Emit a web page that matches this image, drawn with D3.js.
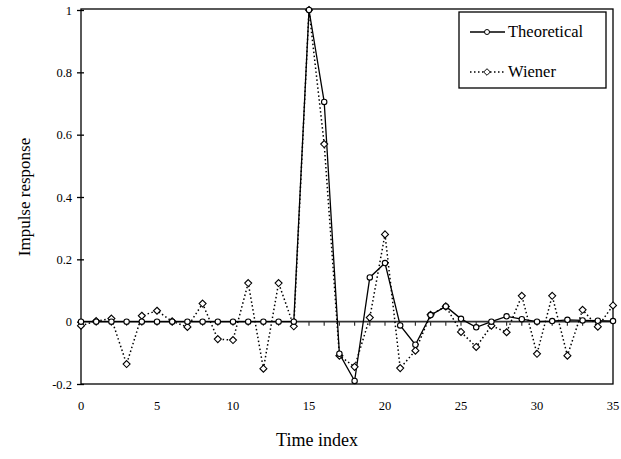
<!DOCTYPE html>
<html><head><meta charset="utf-8">
<script src="https://cdn.jsdelivr.net/npm/d3@7"></script>
<style>body{margin:0;background:#fff}svg{display:block}text{font-family:"Liberation Serif","Times New Roman",serif !important;fill:#000}</style>
</head><body><svg id="c" width="621" height="459"></svg>
<script>
const timeIndex = d3.range(0, 36);
const theoretical = [0,0,0,0,0,0,0,0,0,0,0,0,0,0,0,1.0,0.705,-0.103,-0.19,0.142,0.188,-0.012,-0.074,0.021,0.049,0.009,-0.018,0.0,0.017,0.008,0.0,0.002,0.006,0.004,0.003,0.002];
const wiener = [-0.013,0.002,0.01,-0.136,0.019,0.035,0.001,-0.017,0.058,-0.056,-0.059,0.124,-0.151,0.124,-0.015,1.0,0.57,-0.109,-0.145,0.013,0.28,-0.149,-0.093,0.022,0.049,-0.033,-0.081,-0.013,-0.034,0.083,-0.103,0.083,-0.109,0.038,-0.016,0.052];
const yTicks = [-0.2,0,0.2,0.4,0.6,0.8,1];
const xTickLabels = [0,5,10,15,20,25,30,35];
const seriesNames = ["Theoretical","Wiener"];

const FONT = "Liberation Serif";
const svg = d3.select("#c");
const L=81,R=613,T=10,B=384;
const x = d3.scaleLinear().domain([0,35]).range([L,R]);
const y = d3.scaleLinear().domain([-0.2,1]).range([B,T]);

// frame
svg.append("rect").attr("x",L).attr("y",T-1).attr("width",R-L).attr("height",B-T+1)
  .attr("fill","none").attr("stroke","#000").attr("stroke-width",1.3);

// y axis
const ya = svg.append("g").attr("transform",`translate(${L},0)`)
  .call(d3.axisLeft(y).tickValues(yTicks).tickFormat(d=>d===0?"0":String(+d.toFixed(1))).tickSize(4).tickPadding(5));
ya.attr("font-family",FONT);
ya.select(".domain").remove();
ya.selectAll(".tick line").attr("x2",3).attr("x1",-4).attr("stroke","#000").attr("stroke-width",1.3);
ya.selectAll("text").attr("font-family",FONT).style("font-size","12.5px");

// zero axis with minor ticks
svg.append("line").attr("x1",L).attr("x2",R).attr("y1",y(0)).attr("y2",y(0)).attr("stroke","#333").attr("stroke-width",1.6);
svg.append("g").selectAll("line").data(timeIndex.slice(1,35)).join("line")
  .attr("x1",d=>x(d)).attr("x2",d=>x(d)).attr("y1",y(0)).attr("y2",y(0)+4).attr("stroke","#333").attr("stroke-width",1.2);

// x tick labels at bottom
svg.append("g").selectAll("text").data(xTickLabels).join("text")
  .attr("x",d=>x(d)).attr("y",410).attr("text-anchor","middle").attr("font-family",FONT).style("font-size","12.5px").text(d=>d);

// titles
svg.append("text").attr("x",317).attr("y",446).attr("text-anchor","middle").attr("font-family",FONT).style("font-size","18px").text("Time index");
svg.append("text").attr("transform",`translate(30,${197}) rotate(-90)`).attr("text-anchor","middle").attr("font-family",FONT).style("font-size","17px").text("Impulse response");

// lines
const line = d3.line().x((d,i)=>x(timeIndex[i])).y(d=>y(d));
svg.append("path").datum(wiener).attr("d",line).attr("fill","none").attr("stroke","#000").attr("stroke-width",1.5).attr("stroke-dasharray","1.5,2.5");
svg.append("path").datum(theoretical).attr("d",line).attr("fill","none").attr("stroke","#000").attr("stroke-width",1.3);

const diamond = (cx,cy,r)=>`M${cx},${cy-r}L${cx+r},${cy}L${cx},${cy+r}L${cx-r},${cy}Z`;
svg.append("g").selectAll("path").data(wiener).join("path")
  .attr("d",(d,i)=>diamond(x(timeIndex[i]),y(d),3.5)).attr("fill","#fff").attr("stroke","#000").attr("stroke-width",1.1);
svg.append("g").selectAll("circle").data(theoretical).join("circle")
  .attr("cx",(d,i)=>x(timeIndex[i])).attr("cy",d=>y(d)).attr("r",2.7).attr("fill","#fff").attr("stroke","#000").attr("stroke-width",1.1);

// legend
const lg = svg.append("g");
lg.append("rect").attr("x",459).attr("y",12).attr("width",147).attr("height",76).attr("fill","#fff").attr("stroke","#000").attr("stroke-width",1.3);
const rows=[32,72];
lg.append("line").attr("x1",470).attr("x2",505).attr("y1",rows[0]).attr("y2",rows[0]).attr("stroke","#000").attr("stroke-width",1.3);
lg.append("circle").attr("cx",487).attr("cy",rows[0]).attr("r",2.5).attr("fill","#fff").attr("stroke","#000").attr("stroke-width",1);
lg.append("line").attr("x1",470).attr("x2",505).attr("y1",rows[1]).attr("y2",rows[1]).attr("stroke","#000").attr("stroke-width",1.5).attr("stroke-dasharray","1.5,2.5");
lg.append("path").attr("d",diamond(487,rows[1],3.3)).attr("fill","#fff").attr("stroke","#000").attr("stroke-width",1);
lg.selectAll("text.l").data(seriesNames).join("text").attr("class","l")
  .attr("x",508).attr("y",(d,i)=>rows[i]+5).attr("font-family",FONT).style("font-size","16.5px").text(d=>d);
</script></body></html>
